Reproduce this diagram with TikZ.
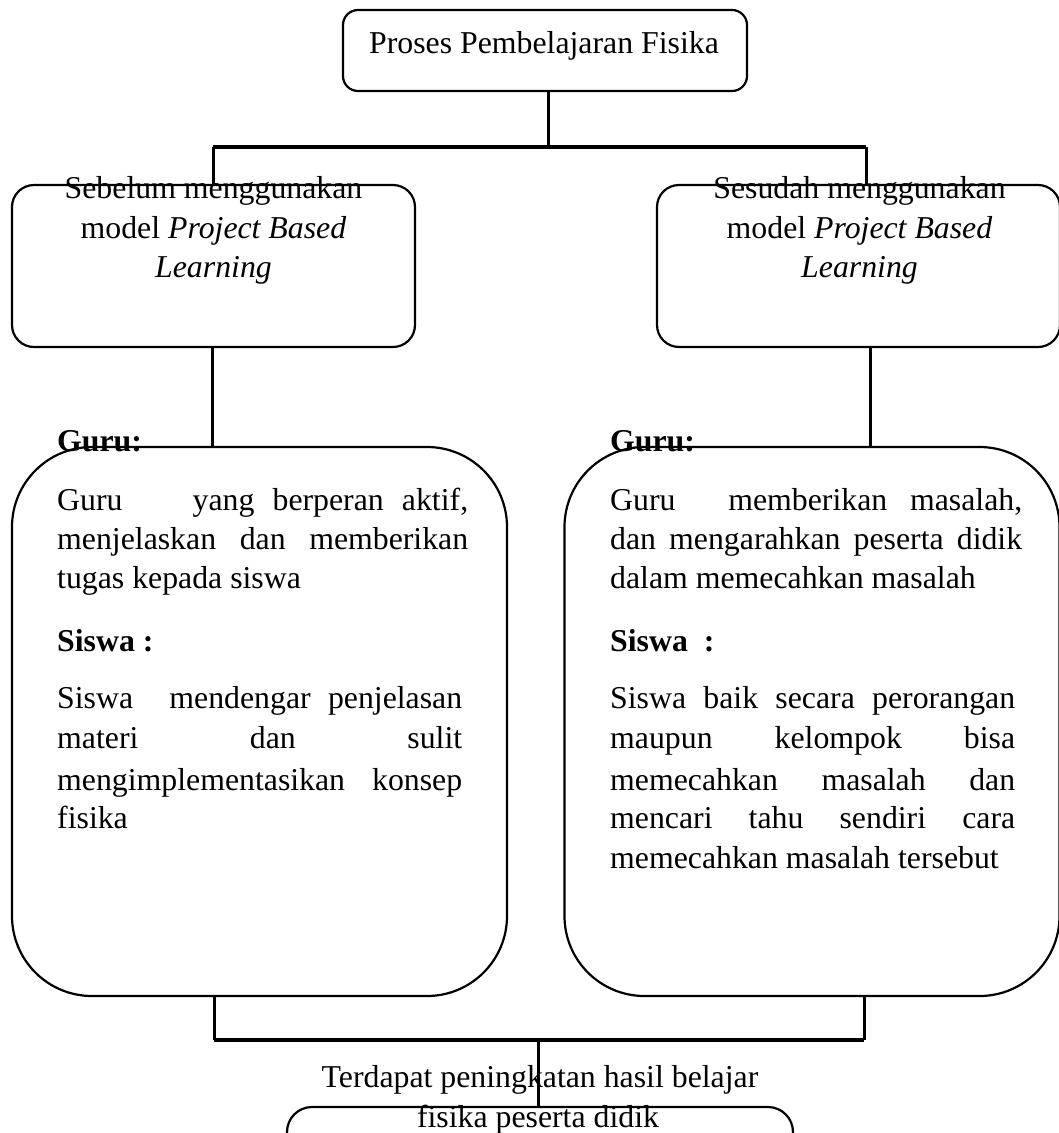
\documentclass[tikz,border=0pt]{standalone}
\usepackage{fontspec}
\setmainfont{Liberation Serif}
\newcommand{\jline}[2]{\makebox[#1][s]{#2}}
\begin{document}
\begin{tikzpicture}[x=1pt,y=-1pt,
  boxstyle/.style={draw, line width=2.2pt, rounded corners=#1, inner sep=0pt},
  conn/.style={line width=3pt},
  hconn/.style={line width=3.6pt},
  txt/.style={inner sep=0pt, font=\fontsize{31.8}{38}\selectfont},
  ln/.style={txt, anchor=base west},
  lnb/.style={txt, anchor=base west, font=\fontsize{31.8}{38}\selectfont\bfseries},
  ctr/.style={txt, anchor=base}]
\useasboundingbox (0,0) rectangle (1059,1133);
\fill[white] (0,0) rectangle (1059,1133);
\clip (0,0) rectangle (1059,1133);

% boxes
\node[boxstyle=15pt, minimum width=404pt, minimum height=81pt] (top) at (545,50.5) {};
\node[boxstyle=22pt, minimum width=403pt, minimum height=162pt] (midL) at (213.5,266) {};
\node[boxstyle=22pt, minimum width=403pt, minimum height=162pt] (midR) at (858.5,266) {};
\node[boxstyle=80pt, minimum width=495pt, minimum height=549pt] (bigL) at (259.5,721.5) {};
\node[boxstyle=80pt, minimum width=495pt, minimum height=549pt] (bigR) at (812,721.5) {};
\node[boxstyle=25pt, minimum width=506pt, minimum height=160pt] (bot) at (540,1187) {};

% connectors
\coordinate (hubL) at (213,147);
\coordinate (hubR) at (866,147);
\coordinate (hubM) at (548,147);
\draw[conn] (hubM |- top.south) -- (hubM);
\draw[hconn] (hubL) -- (hubR);
\draw[conn] (hubL) -- (hubL |- midL.north);
\draw[conn] (hubR) -- (hubR |- midR.north);
\coordinate (dL) at (212,347);
\coordinate (dR) at (870,347);
\draw[conn] (dL |- midL.south) -- (dL |- bigL.north);
\draw[conn] (dR |- midR.south) -- (dR |- bigR.north);
\coordinate (jL) at (214,1040);
\coordinate (jR) at (864,1040);
\coordinate (jM) at (538,1040);
\draw[conn] (jL |- bigL.south) -- (jL);
\draw[conn] (jR |- bigR.south) -- (jR);
\draw[hconn] (jL) -- (jR);
\draw[conn] (jM) -- (jM |- bot.north);

% texts
\node[ctr] (tT) at (544,53) {Proses Pembelajaran Fisika};

\node[ctr] (tL1) at (213.5,198) {Sebelum menggunakan};
\node[ctr] (tL2) at (213.5,238) {model \textit{Project Based}};
\node[ctr] (tL3) at (213.5,277) {\textit{Learning}};

\node[ctr] (tR1) at (859.5,198) {Sesudah menggunakan};
\node[ctr] (tR2) at (859.5,238) {model \textit{Project Based}};
\node[ctr] (tR3) at (859.5,277) {\textit{Learning}};

\node[lnb] (gL) at (57,451) {Guru:};
\node[ln] (gL1) at (57,510) {\jline{411pt}{Guru\hspace{52pt} yang berperan aktif,}};
\node[ln] (gL2) at (57,549) {\jline{411pt}{menjelaskan dan memberikan}};
\node[ln] (gL3) at (57,588) {tugas kepada siswa};
\node[lnb] (sL) at (57,651) {Siswa :};
\node[ln] (sL1) at (57,708) {\jline{405pt}{Siswa\hspace{19pt} mendengar penjelasan}};
\node[ln] (sL2) at (57,748) {\jline{405pt}{materi dan sulit}};
\node[ln] (sL3) at (57,790) {\jline{405pt}{mengimplementasikan konsep}};
\node[ln] (sL4) at (57,828) {fisika};

\node[lnb] (gR) at (610,451) {Guru:};
\node[ln] (gR1) at (610,510) {\jline{412pt}{Guru\hspace{30pt} memberikan masalah,}};
\node[ln] (gR2) at (610,549) {\jline{412pt}{dan mengarahkan peserta didik}};
\node[ln] (gR3) at (610,588) {dalam memecahkan masalah};
\node[lnb] (sR) at (610,651) {Siswa\ \ :};
\node[ln] (sR1) at (610,708) {\jline{405pt}{Siswa baik secara perorangan}};
\node[ln] (sR2) at (610,748) {\jline{405pt}{maupun kelompok bisa}};
\node[ln] (sR3) at (610,790) {\jline{405pt}{memecahkan masalah dan}};
\node[ln] (sR4) at (610,828) {\jline{405pt}{mencari tahu sendiri cara}};
\node[ln] (sR5) at (610,868) {memecahkan masalah tersebut};

\node[ctr] (tB1) at (540,1087) {Terdapat peningkatan hasil belajar};
\node[ctr] (tB2) at (538,1127) {fisika peserta didik};
\end{tikzpicture}
\end{document}
